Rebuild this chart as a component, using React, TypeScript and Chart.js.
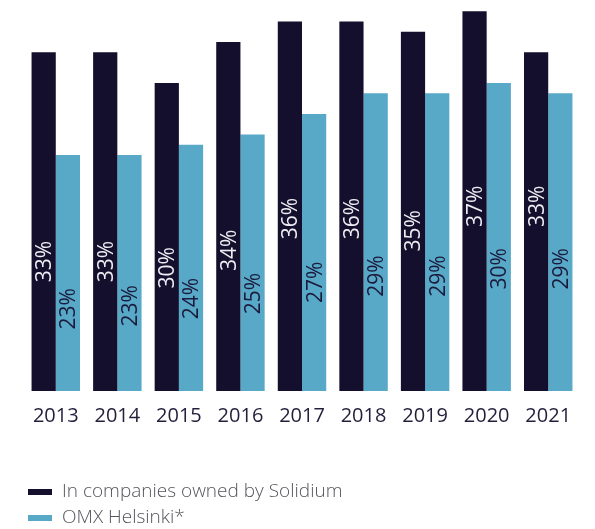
import React, { useEffect, useRef } from "react";
import { Chart, registerables } from "chart.js";

Chart.register(...registerables);

const years = ["2013", "2014", "2015", "2016", "2017", "2018", "2019", "2020", "2021"];
const solidium = [33, 33, 30, 34, 36, 36, 35, 37, 33];
const omx = [23, 23, 24, 25, 27, 29, 29, 30, 29];
const seriesNames = ["In companies owned by Solidium", "OMX Helsinki*"];

// vertical centre of each rotated value label, in value units (layout, not data)
const solidiumLabelAt = [12.6, 12.6, 12.0, 13.7, 16.8, 16.8, 15.6, 18.0, 18.0];
const omxLabelAt = [8.0, 8.3, 9.0, 9.5, 10.6, 11.2, 11.2, 11.9, 11.9];

const DARK = "#140f2c";
const LIGHT = "#58a8c8";
const FONT = '"Open Sans", "Noto Sans", sans-serif';

const labelPlugin = {
  id: "rotLabels",
  afterDatasetsDraw(chart: any) {
    const ctx = chart.ctx;
    const yScale = chart.scales.y;
    const pos = [solidiumLabelAt, omxLabelAt];
    const colors = ["#ececf2", "#1b1a3b"];
    const size = 21;
    const capH = size * 0.714;
    chart.data.datasets.forEach((ds: any, di: number) => {
      const meta = chart.getDatasetMeta(di);
      meta.data.forEach((bar: any, i: number) => {
        const y = yScale.getPixelForValue(pos[di][i]);
        ctx.save();
        ctx.translate(bar.x, y);
        ctx.rotate(-Math.PI / 2);
        ctx.font = `400 ${size}px ${FONT}`;
        ctx.fillStyle = colors[di];
        ctx.textAlign = "center";
        ctx.textBaseline = "alphabetic";
        ctx.fillText(ds.data[i] + "%", 0, capH / 2);
        ctx.restore();
      });
    });
  },
};

const legendPlugin = {
  id: "customLegend",
  afterDraw(chart: any) {
    const ctx = chart.ctx;
    const rows = [497, 523];
    chart.data.datasets.forEach((ds: any, di: number) => {
      const base = rows[di];
      ctx.save();
      ctx.fillStyle = ds.backgroundColor;
      ctx.fillRect(28, base - 8, 24, 6);
      ctx.font = `300 19px ${FONT}`;
      ctx.fillStyle = "#55555c";
      ctx.textAlign = "left";
      ctx.textBaseline = "alphabetic";
      ctx.fillText(ds.label, 62, base);
      ctx.restore();
    });
  },
};

export default function App() {
  const ref = useRef<HTMLCanvasElement>(null);
  useEffect(() => {
    if (!ref.current) return;
    const chart = new Chart(ref.current, {
      type: "bar",
      data: {
        labels: years,
        datasets: [
          { label: seriesNames[0], data: solidium, backgroundColor: DARK, borderWidth: 0 },
          { label: seriesNames[1], data: omx, backgroundColor: LIGHT, borderWidth: 0 },
        ],
      },
      options: {
        responsive: false,
        animation: false,
        devicePixelRatio: 1,
        layout: { padding: { top: 1, left: 25, right: 16, bottom: 88 } },
        datasets: { bar: { categoryPercentage: 0.787, barPercentage: 1 } },
        plugins: { legend: { display: false }, tooltip: { enabled: false } },
        scales: {
          x: {
            grid: { display: false, drawTicks: false },
            border: { display: false },
            ticks: { color: "#221f3a", font: { family: FONT, size: 20 }, padding: 13 },
          },
          y: { display: false, min: 0, max: 38 },
        },
      },
      plugins: [labelPlugin, legendPlugin],
    });
    return () => chart.destroy();
  }, []);
  return (
    <div style={{ position: "absolute", left: 0, top: 0, width: 595, height: 529, background: "#fff" }}>
      <canvas ref={ref} width={595} height={529} style={{ display: "block" }} />
    </div>
  );
}
